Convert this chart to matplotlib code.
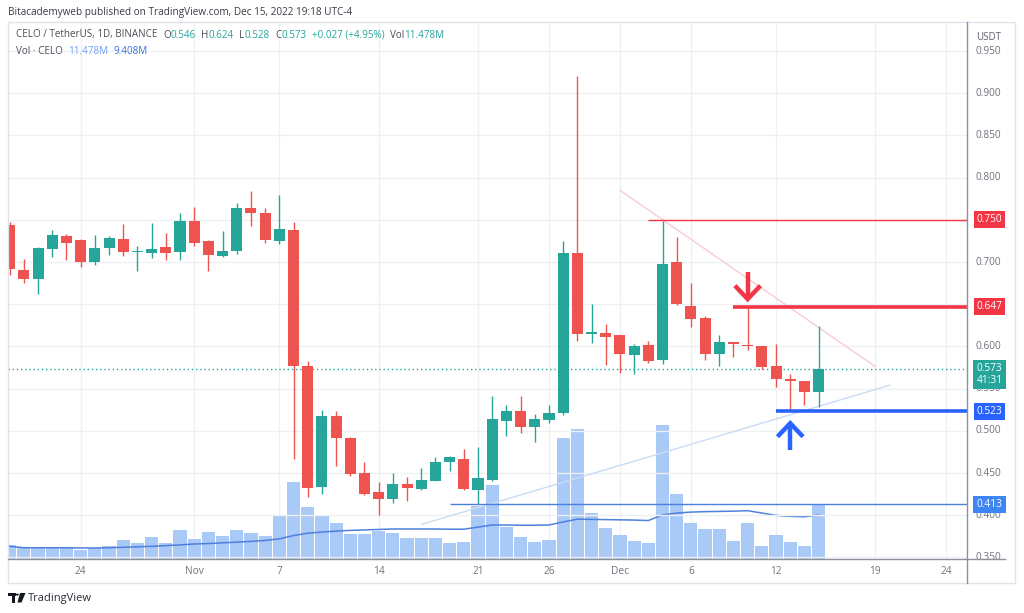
import matplotlib
matplotlib.use('Agg')
import matplotlib.pyplot as plt
import matplotlib.dates as mdates
from matplotlib.transforms import blended_transform_factory, offset_copy
from matplotlib.lines import Line2D
from matplotlib.patches import Rectangle, Polygon, Circle
import pandas as pd

# ---------------- data ----------------
dates = pd.date_range('2022-10-19', '2022-12-15', freq='D')
opens = [0.744, 0.690, 0.680, 0.716, 0.731, 0.726, 0.700, 0.717, 0.727, 0.712,
         0.711, 0.718, 0.712, 0.749, 0.725, 0.707, 0.713, 0.764, 0.758, 0.725,
         0.738, 0.577, 0.433, 0.518, 0.492, 0.450, 0.427, 0.419, 0.437, 0.431,
         0.441, 0.463, 0.467, 0.430, 0.442, 0.512, 0.523, 0.504, 0.513, 0.521,
         0.711, 0.615, 0.616, 0.613, 0.590, 0.602, 0.584, 0.700, 0.648, 0.634,
         0.591, 0.605, 0.602, 0.601, 0.577, 0.561, 0.559, 0.546]
highs = [0.747, 0.704, 0.718, 0.738, 0.733, 0.727, 0.732, 0.731, 0.745, 0.719,
         0.746, 0.734, 0.758, 0.765, 0.726, 0.737, 0.770, 0.784, 0.764, 0.780,
         0.747, 0.583, 0.525, 0.524, 0.493, 0.463, 0.439, 0.450, 0.445, 0.456,
         0.469, 0.470, 0.478, 0.481, 0.541, 0.531, 0.541, 0.520, 0.531, 0.725,
         0.920, 0.650, 0.627, 0.614, 0.603, 0.606, 0.749, 0.730, 0.675, 0.636,
         0.613, 0.605, 0.647, 0.601, 0.603, 0.567, 0.559, 0.624]
lows = [0.685, 0.675, 0.662, 0.706, 0.702, 0.694, 0.696, 0.708, 0.707, 0.689,
        0.705, 0.702, 0.702, 0.719, 0.689, 0.706, 0.709, 0.743, 0.723, 0.721,
        0.467, 0.421, 0.425, 0.458, 0.446, 0.424, 0.400, 0.415, 0.417, 0.430,
        0.440, 0.452, 0.430, 0.413, 0.441, 0.494, 0.497, 0.487, 0.509, 0.519,
        0.606, 0.604, 0.578, 0.568, 0.567, 0.580, 0.579, 0.649, 0.623, 0.584,
        0.577, 0.588, 0.596, 0.573, 0.552, 0.523, 0.531, 0.528]
closes = [0.692, 0.680, 0.717, 0.732, 0.723, 0.700, 0.717, 0.728, 0.712, 0.713,
          0.716, 0.711, 0.749, 0.723, 0.708, 0.713, 0.764, 0.758, 0.726, 0.739,
          0.577, 0.432, 0.518, 0.491, 0.449, 0.425, 0.419, 0.437, 0.432, 0.442,
          0.463, 0.469, 0.431, 0.444, 0.514, 0.524, 0.504, 0.514, 0.521, 0.711,
          0.615, 0.617, 0.611, 0.591, 0.601, 0.583, 0.698, 0.650, 0.633, 0.591,
          0.605, 0.603, 0.600, 0.576, 0.561, 0.559, 0.546, 0.573]
volumes_m = [3.0, 2.5, 2.5, 2.55, 2.5, 1.85, 2.3, 2.8, 4.0, 3.4,
             4.6, 3.4, 6.25, 4.25, 5.75, 4.8, 6.1, 5.55, 5.0, 9.4,
             16.4, 11.0, 9.2, 7.6, 5.3, 5.3, 5.9, 5.6, 4.5, 4.4,
             4.4, 3.5, 3.7, 11.4, 15.8, 6.9, 4.75, 3.6, 4.05, 25.9,
             27.7, 9.9, 6.7, 5.1, 3.9, 3.35, 28.6, 13.8, 7.75, 6.3,
             6.3, 3.9, 7.75, 2.8, 5.1, 3.7, 2.8, 11.48]
vol_ma_m = [2.7, 2.4, 2.4, 2.4, 2.4, 2.35, 2.35, 2.4, 2.5, 2.6,
            2.7, 2.85, 3.0, 3.2, 3.3, 3.45, 3.6, 3.75, 3.95, 4.3,
            5.0, 5.5, 5.75, 5.95, 6.1, 6.2, 6.3, 6.4, 6.4, 6.4,
            6.4, 6.35, 6.35, 6.8, 7.25, 7.25, 7.2, 7.2, 7.25, 7.9,
            8.5, 8.45, 8.4, 8.35, 8.3, 8.2, 9.4, 9.8, 10.0, 10.1,
            10.15, 10.2, 10.3, 9.8, 9.3, 9.1, 9.0, 9.4]

price_ticks = [0.350, 0.400, 0.450, 0.500, 0.550, 0.600, 0.650, 0.700,
               0.750, 0.800, 0.850, 0.900, 0.950]
hidden_ticks = [0.650]                     # fully covered by a price label
clipped_ticks = {0.550: 388, 0.400: 512.5}  # partly covered (pixel row of box bottom)
time_tick_dates = ['2022-10-24', '2022-11-01', '2022-11-07', '2022-11-14',
                   '2022-11-21', '2022-11-26', '2022-12-01', '2022-12-06',
                   '2022-12-12', '2022-12-19', '2022-12-24']
time_tick_labels = ['24', 'Nov', '7', '14', '21', '26', 'Dec', '6', '12', '19', '24']

# drawings (levels and anchor dates)
res_thin = (0.750, '2022-12-03')
res_thick = (0.647, '2022-12-09')
sup_thick = (0.523, '2022-12-12')
sup_thin = (0.413, '2022-11-19')
last_price = 0.573
down_trend = (['2022-12-01', '2022-12-19'], [0.785, 0.576])
up_trend = (['2022-11-17', '2022-12-20'], [0.389, 0.554])
down_arrow = ('2022-12-10', 0.688, 0.656)
up_arrow = ('2022-12-13', 0.477, 0.509)

GREEN = '#26a69a'
RED = '#ef5350'
LRED = '#f23645'
BLUE = '#2962ff'
LBLUE = '#3f86f5'
VOLC = '#a9c9f6'
MAC = '#4f80dd'
GRID = '#eef0f4'
TXT = '#5d606b'

plt.rcParams['font.family'] = ['Open Sans', 'DejaVu Sans']

W, H = 1024, 613
fig = plt.figure(figsize=(W / 100, H / 100), dpi=100)
fig.patch.set_facecolor('white')


def fx(px):
    return px / W


def fy(py):
    return 1 - py / H


L, R, T, B = 8, 966.5, 22, 559
rect = [fx(L), fy(B), fx(R) - fx(L), fy(T) - fy(B)]
ax_v = fig.add_axes(rect)
ax = fig.add_axes(rect, sharex=ax_v)
ax.patch.set_visible(False)

x = mdates.date2num(dates)
d0 = mdates.date2num(pd.Timestamp('2022-10-24'))
ax_v.set_xlim(d0 - 5.12, d0 + 62.42)
ax.set_ylim(0.3481, 0.9844)
ax_v.set_ylim(0, 114.5)

for a in (ax, ax_v):
    for s in a.spines.values():
        s.set_visible(False)
    a.tick_params(left=False, bottom=False, labelleft=False, labelbottom=False,
                  right=False, labelright=False)

# grid
tick_nums = [mdates.date2num(pd.Timestamp(t)) for t in time_tick_dates]
for t in tick_nums:
    ax_v.axvline(t, color=GRID, lw=1, zorder=0)
for p in price_ticks:
    ax.axhline(p, color=GRID, lw=1, zorder=0)

# volume
ax_v.bar(x, volumes_m, width=0.93, color=VOLC, zorder=1)
ax_v.plot(x, vol_ma_m, color=MAC, lw=1.1, zorder=2)

# candles
colors = [GREEN if c >= o else RED for o, c in zip(opens, closes)]
bottoms = [min(o, c) for o, c in zip(opens, closes)]
heights = [max(abs(c - o), 0.0016) for o, c in zip(opens, closes)]
ax.vlines(x, lows, highs, colors=colors, lw=1.0, zorder=3)
ax.bar(x, heights, bottom=bottoms, width=0.78, color=colors, zorder=4)

# drawings
xr = ax.get_xlim()[1]


def dn(s):
    return mdates.date2num(pd.Timestamp(s))


ax.plot([dn(down_trend[0][0]), dn(down_trend[0][1])], down_trend[1],
        color='#f6ccd2', lw=1.0, zorder=2)
ax.plot([dn(up_trend[0][0]), dn(up_trend[0][1])], up_trend[1],
        color='#cadcf3', lw=1.0, zorder=2)
ax.hlines(res_thin[0], dn(res_thin[1]), xr, color=LRED, lw=1.0, zorder=5)
ax.hlines(res_thick[0], dn(res_thick[1]), xr, color=LRED, lw=2.6, zorder=5)
ax.hlines(sup_thick[0], dn(sup_thick[1]), xr, color=BLUE, lw=2.6, zorder=5)
ax.hlines(sup_thin[0], dn(sup_thin[1]), xr, color='#4a7fdc', lw=1.0, zorder=5)
ax.axhline(last_price, color=GREEN, lw=1.0, ls=(0, (1, 2)), zorder=2)


# arrows (chevron style)
def chevron(date, y_tail, y_tip, color):
    xc = dn(date)
    ax.plot([xc, xc], [y_tail, y_tip], color=color, lw=3.2,
            solid_capstyle='butt', zorder=6)
    arm = (y_tip - y_tail) * 0.5
    ax.plot([xc - 0.9, xc, xc + 0.9], [y_tip - arm, y_tip, y_tip - arm],
            color=color, lw=3.2, solid_joinstyle='miter',
            solid_capstyle='butt', zorder=6)


chevron(down_arrow[0], down_arrow[1], down_arrow[2], LRED)
chevron(up_arrow[0], up_arrow[1], up_arrow[2], BLUE)

# ----- price axis labels -----
tr_py = blended_transform_factory(fig.transFigure, ax.transData)
fig.text(fx(976), fy(37), 'USDT', fontsize=7, color=TXT, va='center', ha='left')
for p in price_ticks:
    if p in hidden_ticks:
        continue
    t = ax.text(fx(976), p, f'{p:.3f}', transform=tr_py, fontsize=7.3, color='#70737d',
                va='center', ha='left', clip_on=False, zorder=10)
    if p in clipped_ticks:
        cp = Rectangle((fx(968), 0), fx(50), fy(clipped_ticks[p]),
                       transform=fig.transFigure, fc='none', ec='none')
        t.set_clip_on(True)
        t.set_clip_path(cp)


def price_box(p, text, fc):
    ax.text(fx(989.5), p, text, transform=tr_py, fontsize=7.3, color='white',
            va='center', ha='center', clip_on=False, zorder=12,
            bbox=dict(boxstyle='square,pad=0.3', fc=fc, ec='none'))


price_box(res_thin[0], f'{res_thin[0]:.3f}', LRED)
price_box(res_thick[0], f'{res_thick[0]:.3f}', LRED)
price_box(sup_thick[0], f'{sup_thick[0]:.3f}', BLUE)
price_box(sup_thin[0], f'{sup_thin[0]:.3f}', LBLUE)
ax.text(fx(989.5), last_price, f'{last_price:.3f}\n41:31',
        transform=offset_copy(tr_py, fig=fig, y=6, units='dots'),
        fontsize=7.3, color='white', va='top', ha='center', linespacing=1.15,
        clip_on=False, zorder=12,
        bbox=dict(boxstyle='square,pad=0.3', fc=GREEN, ec='none'))

# ----- time axis labels -----
tr_tx = blended_transform_factory(ax.transData, fig.transFigure)
for t, lab in zip(tick_nums, time_tick_labels):
    ax.text(t, fy(571), lab, transform=tr_tx, fontsize=7.3, color='#70737d',
            ha='center', va='center', clip_on=False)


# ----- frame lines -----
def fline(xs, ys, color, lw=1.0):
    fig.add_artist(Line2D([fx(v) for v in xs], [fy(v) for v in ys],
                          transform=fig.transFigure, color=color, lw=lw))


fline([8, 1015, 1015, 8, 8], [22, 22, 583, 583, 22], '#e0e3eb')
fline([966.5, 966.5], [22, 583], '#8d9099', 1.0)
fline([8, 1005], [559, 559], '#8d9099', 1.0)

# ----- header / legend -----
FS = 7.1
DARK = '#4a4d57'
fig.text(fx(8), fy(12), 'Bitacademyweb published on TradingView.com, Dec 15, 2022 19:18 UTC-4',
         fontsize=7.2, color='#3a3d46', va='center', ha='left')

fig.canvas.draw()
rend = fig.canvas.get_renderer()


def text_w(s):
    t = fig.text(0, 0, s, fontsize=FS)
    w = t.get_window_extent(rend).width
    t.remove()
    return w


def run(x0, y, pieces, gap):
    xp = x0
    for s, c in pieces:
        fig.text(fx(xp), y, s, fontsize=FS, color=c, va='center', ha='left')
        xp += text_w(s)
        if s not in ('O', 'H', 'L', 'C', 'Vol'):
            xp += gap


y1, y2 = fy(35), fy(51)
run(16, y1, [('CELO / TetherUS, 1D, BINANCE', DARK), ('O', DARK), ('0.546', GREEN),
             ('H', DARK), ('0.624', GREEN), ('L', DARK), ('0.528', GREEN),
             ('C', DARK), ('0.573', GREEN), ('+0.027 (+4.95%)', GREEN),
             ('Vol', DARK), ('11.478M', GREEN)], 5.5)
run(16, y2, [('Vol · CELO', DARK), ('11.478M', '#6fa3f3'), ('9.408M', '#3b6fe0')], 5.5)

# ----- footer logo -----
logo_c = '#131722'
fig.add_artist(Rectangle((fx(8), fy(596)), fx(7.5), 3 / H, transform=fig.transFigure,
                         color=logo_c, lw=0))
fig.add_artist(Rectangle((fx(11.5), fy(602.5)), fx(3.5), 7 / H, transform=fig.transFigure,
                         color=logo_c, lw=0))
fig.add_artist(Circle((fx(17.3), fy(594.6)), 1.6 / W, transform=fig.transFigure,
                      color=logo_c, lw=0))
fig.add_artist(Polygon([(fx(20), fy(593)), (fx(25.5), fy(593)), (fx(21.5), fy(602.5)),
                        (fx(17.5), fy(602.5))], closed=True, transform=fig.transFigure,
                       color=logo_c, lw=0))
fig.text(fx(28), fy(598), 'TradingView', fontsize=8, color='#2a2e39', va='center', ha='left')

fig.savefig('out.png', dpi=100, facecolor='white')
